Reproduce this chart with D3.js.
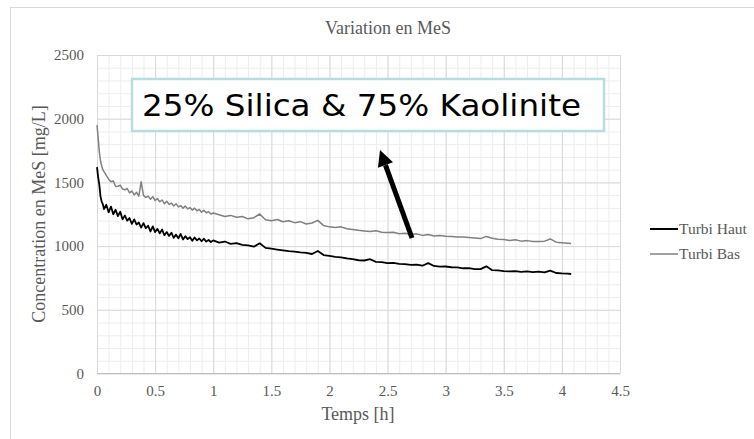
<!DOCTYPE html>
<html>
<head>
<meta charset="utf-8">
<script src="https://cdn.jsdelivr.net/npm/d3@7"></script>
<style>
  body { margin: 0; background: #fff; }
  svg { display: block; }
  text { font-family: "Liberation Serif", "Times New Roman", serif; fill: #595959; }
</style>
</head>
<body>
<svg id="chart" width="754" height="439"></svg>
<script>
// 時間 (h)
const temps = [0, 0.01, 0.02, 0.03, 0.04, 0.05, 0.06, 0.08, 0.10, 0.12, 0.14, 0.16, 0.18, 0.20,
  0.22, 0.24, 0.26, 0.28, 0.30, 0.32, 0.34, 0.36, 0.38, 0.40, 0.42, 0.44, 0.46, 0.48, 0.50,
  0.52, 0.54, 0.56, 0.58, 0.60, 0.62, 0.64, 0.66, 0.68, 0.70, 0.72, 0.74, 0.76, 0.78, 0.80,
  0.82, 0.84, 0.86, 0.88, 0.90, 0.92, 0.94, 0.96, 0.98, 1.00,
  1.05, 1.10, 1.15, 1.20, 1.25, 1.30, 1.35, 1.40, 1.45, 1.50, 1.55, 1.60, 1.65, 1.70, 1.75,
  1.80, 1.85, 1.90, 1.95, 2.00, 2.05, 2.10, 2.15, 2.20, 2.25, 2.30, 2.35, 2.40, 2.45, 2.50,
  2.55, 2.60, 2.65, 2.70, 2.75, 2.80, 2.85, 2.90, 2.95, 3.00, 3.05, 3.10, 3.15, 3.20, 3.25,
  3.30, 3.35, 3.40, 3.45, 3.50, 3.55, 3.60, 3.65, 3.70, 3.75, 3.80, 3.85, 3.90, 3.95, 4.00,
  4.05, 4.08];

// Turbi Haut (mg/L)
const turbiHaut = [1620, 1540, 1480, 1390, 1350, 1330, 1290, 1325, 1265, 1310, 1250, 1285, 1235, 1270,
  1210, 1240, 1200, 1220, 1175, 1210, 1170, 1185, 1145, 1180, 1140, 1160, 1115, 1155, 1110,
  1135, 1100, 1130, 1085, 1110, 1080, 1105, 1065, 1090, 1062, 1095, 1052, 1078, 1055, 1070,
  1042, 1068, 1045, 1060, 1038, 1058, 1035, 1048, 1032, 1045,
  1028, 1036, 1018, 1024, 1010, 1006, 996, 1022, 986, 980, 973, 967, 960, 957, 950,
  947, 938, 962, 930, 924, 916, 912, 903, 897, 889, 887, 897, 876, 874, 866,
  868, 860, 859, 853, 854, 846, 866, 844, 839, 840, 834, 833, 826, 827, 820,
  819, 841, 811, 809, 804, 801, 803, 797, 801, 795, 799, 793, 808, 789, 786,
  784, 781];

// Turbi Bas (mg/L)
const turbiBas = [1950, 1850, 1740, 1670, 1630, 1600, 1585, 1555, 1525, 1505, 1512, 1468, 1470, 1478,
  1448, 1442, 1452, 1418, 1432, 1402, 1422, 1392, 1505, 1398, 1382, 1392, 1368, 1388, 1358,
  1372, 1348, 1362, 1332, 1352, 1328, 1338, 1315, 1333, 1308, 1318, 1298, 1315, 1292, 1302,
  1283, 1298, 1277, 1288, 1266, 1282, 1262, 1270, 1252, 1260,
  1246, 1233, 1241, 1226, 1232, 1214, 1223, 1252, 1207, 1199, 1209, 1191, 1199, 1184, 1192,
  1174, 1181, 1202, 1161, 1151, 1146, 1151, 1136, 1131, 1124, 1119, 1114, 1121, 1109, 1106,
  1109, 1097, 1101, 1091, 1096, 1084, 1091, 1079, 1083, 1077, 1076, 1071, 1071, 1067, 1063,
  1059, 1076, 1061, 1054, 1051, 1044, 1049, 1039, 1043, 1037, 1036, 1039, 1056, 1031, 1027,
  1023, 1021];

const xTicks = [0, 0.5, 1, 1.5, 2, 2.5, 3, 3.5, 4, 4.5];
const yTicks = [0, 500, 1000, 1500, 2000, 2500];
const seriesNames = ["Turbi Haut", "Turbi Bas"];
const seriesColors = ["#000000", "#808080"];
const annotation = "25% Silica & 75% Kaolinite";

// 定義圖表
const svg = d3.select("#chart");
const mLeft = 97, mRight = 620, mTop = 55, mBottom = 373.5;

const x = d3.scaleLinear().domain([0, 4.5]).range([mLeft, mRight]);
const y = d3.scaleLinear().domain([0, 2500]).range([mBottom, mTop]);

// 外框
svg.append("rect")
  .attr("x", 10.5).attr("y", 7.5)
  .attr("width", 780).attr("height", 460)
  .attr("fill", "#fff")
  .attr("stroke", "#d9d9d9");

// 格線 (minor)
svg.append("g")
  .attr("transform", "translate(0," + mBottom + ")")
  .call(d3.axisBottom(x).tickValues(d3.range(0, 4.51, 0.1)).tickSize(-(mBottom - mTop)).tickFormat(""))
  .call(g => g.select(".domain").remove())
  .call(g => g.selectAll("line").attr("stroke", "#ededed"));
svg.append("g")
  .attr("transform", "translate(" + mLeft + ",0)")
  .call(d3.axisLeft(y).tickValues(d3.range(0, 2501, 100)).tickSize(-(mRight - mLeft)).tickFormat(""))
  .call(g => g.select(".domain").remove())
  .call(g => g.selectAll("line").attr("stroke", "#ededed"));

// 格線 (major)
svg.append("g")
  .attr("transform", "translate(0," + mBottom + ")")
  .call(d3.axisBottom(x).tickValues(xTicks).tickSize(-(mBottom - mTop)).tickFormat(""))
  .call(g => g.select(".domain").remove())
  .call(g => g.selectAll("line").attr("stroke", "#d9d9d9"));
svg.append("g")
  .attr("transform", "translate(" + mLeft + ",0)")
  .call(d3.axisLeft(y).tickValues(yTicks).tickSize(-(mRight - mLeft)).tickFormat(""))
  .call(g => g.select(".domain").remove())
  .call(g => g.selectAll("line").attr("stroke", "#d9d9d9"));

// 座標軸
svg.append("line")
  .attr("x1", mLeft).attr("x2", mRight)
  .attr("y1", mBottom).attr("y2", mBottom)
  .attr("stroke", "#bfbfbf").attr("stroke-width", 1.2);

// 刻度文字
svg.append("g")
  .attr("transform", "translate(0," + mBottom + ")")
  .call(d3.axisBottom(x).tickValues(xTicks).tickSize(0).tickPadding(12).tickFormat(d3.format("")))
  .call(g => g.select(".domain").remove())
  .call(g => g.selectAll("text").style("font-size", "15px").attr("fill", "#595959")
    .style("font-family", "'Liberation Serif', serif"));
svg.append("g")
  .attr("transform", "translate(" + mLeft + ",0)")
  .call(d3.axisLeft(y).tickValues(yTicks).tickSize(0).tickPadding(13).tickFormat(d3.format("")))
  .call(g => g.select(".domain").remove())
  .call(g => g.selectAll("text").style("font-size", "15px").attr("fill", "#595959")
    .style("font-family", "'Liberation Serif', serif"));

// 曲線
const line = d3.line()
  .x((d, i) => x(temps[i]))
  .y(d => y(d));

svg.append("path")
  .datum(turbiBas)
  .attr("fill", "none")
  .attr("stroke", seriesColors[1])
  .attr("stroke-width", 1.5)
  .attr("stroke-linejoin", "round")
  .attr("d", line);
svg.append("path")
  .datum(turbiHaut)
  .attr("fill", "none")
  .attr("stroke", seriesColors[0])
  .attr("stroke-width", 1.8)
  .attr("stroke-linejoin", "round")
  .attr("d", line);

// 標題
svg.append("text")
  .attr("x", 388).attr("y", 34)
  .attr("text-anchor", "middle")
  .style("font-size", "18px")
  .text("Variation en MeS");

svg.append("text")
  .attr("x", 358).attr("y", 420)
  .attr("text-anchor", "middle")
  .style("font-size", "18px")
  .text("Temps [h]");

svg.append("text")
  .attr("transform", "translate(45,214) rotate(-90)")
  .attr("text-anchor", "middle")
  .style("font-size", "18px")
  .text("Concentration en MeS [mg/L]");

// 圖例
seriesNames.forEach((name, i) => {
  const ly = 229 + i * 25;
  svg.append("line")
    .attr("x1", 650).attr("x2", 678)
    .attr("y1", ly).attr("y2", ly)
    .attr("stroke", seriesColors[i])
    .attr("stroke-width", i === 0 ? 2 : 1.5);
  svg.append("text")
    .attr("x", 679).attr("y", ly + 5)
    .style("font-size", "15.5px")
    .text(name);
});

// 註解框
svg.append("rect")
  .attr("x", 132).attr("y", 79)
  .attr("width", 472).attr("height", 52)
  .attr("fill", "#fff")
  .attr("stroke", "#b7dde0")
  .attr("stroke-width", 2.5);
svg.append("text")
  .attr("x", 142).attr("y", 116)
  .style("font-family", "'DejaVu Sans', Verdana, sans-serif")
  .style("font-size", "30px")
  .style("fill", "#000")
  .attr("textLength", 439)
  .attr("lengthAdjust", "spacingAndGlyphs")
  .text(annotation);

// 箭頭
const ax1 = 412, ay1 = 238, ax2 = 380, ay2 = 150;
const ang = Math.atan2(ay2 - ay1, ax2 - ax1);
const headLen = 16, headW = 8;
const bx = ax2 - headLen * Math.cos(ang), by = ay2 - headLen * Math.sin(ang);
svg.append("line")
  .attr("x1", ax1).attr("y1", ay1)
  .attr("x2", bx).attr("y2", by)
  .attr("stroke", "#000")
  .attr("stroke-width", 5);
svg.append("path")
  .attr("fill", "#000")
  .attr("d", "M" + ax2 + "," + ay2 +
    "L" + (bx + headW * Math.sin(ang)) + "," + (by - headW * Math.cos(ang)) +
    "L" + (bx - headW * Math.sin(ang)) + "," + (by + headW * Math.cos(ang)) + "Z");
</script>
</body>
</html>
